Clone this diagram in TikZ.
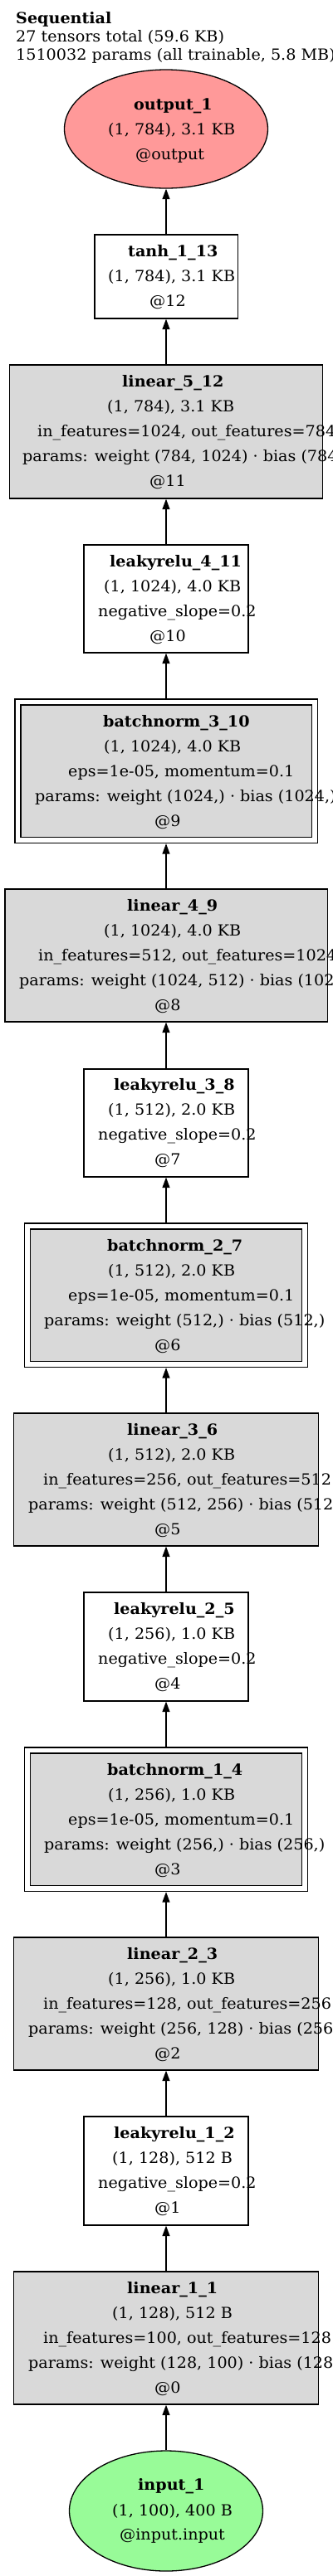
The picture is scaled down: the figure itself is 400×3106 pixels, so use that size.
\documentclass[tikz,border=0pt]{standalone}
\usepackage{fontspec}
\setmainfont[FakeStretch=1.035]{DejaVu Serif}
\usetikzlibrary{arrows.meta,shapes.geometric}
\definecolor{layergray}{HTML}{D9D9D9}
\definecolor{outred}{HTML}{FF9999}
\definecolor{ingreen}{HTML}{98FB98}

\begin{document}
\begin{tikzpicture}[x=1pt, y=-1pt,
  every node/.style={font=\fontsize{18.5}{22}\selectfont},
  plain/.style={draw, rectangle, inner sep=0pt, line width=1.3pt},
  weighted/.style={plain, fill=layergray},
  normed/.style={weighted, double, double distance=5.7pt},
  tensor/.style={draw, ellipse, inner sep=0pt, line width=1.3pt},
  txt/.style={anchor=base west, inner sep=0pt},
  head/.style={txt, font=\fontsize{18.5}{22}\selectfont\bfseries},
  flow/.style={line width=1.3pt, -{Triangle[length=12.5pt,width=9pt]}}]
\useasboundingbox[fill=white] (0,0) rectangle (400,3106);

% summary
\path (19,28) node[head] (seqn) {Sequential};
\path (19,50) node[txt] (seqt) {27 tensors total (59.6 KB)};
\path (19,72) node[txt] (seqp) {1510032 params (all trainable, 5.8 MB)};

% layers, top to bottom
\node[tensor, fill=outred, minimum width=245, minimum height=143] (out1) at (200,155.5) {};
\node[plain, minimum width=172.3, minimum height=101] (tanh1) at (200,333.5) {};
\node[weighted, minimum width=377, minimum height=161] (lin5) at (200,520.5) {};
\node[plain, minimum width=198, minimum height=130] (lrelu4) at (200,722) {};
\node[normed, minimum width=357.3, minimum height=166.5] (bn3) at (200,929.75) {};
\node[weighted, minimum width=388.3, minimum height=160] (lin4) at (200,1152) {};
\node[plain, minimum width=198, minimum height=130] (lrelu3) at (200,1354) {};
\node[normed, minimum width=334.6, minimum height=166.5] (bn2) at (200,1561.75) {};
\node[weighted, minimum width=366.6, minimum height=160] (lin3) at (200,1784) {};
\node[plain, minimum width=198, minimum height=131] (lrelu2) at (200,1985.5) {};
\node[normed, minimum width=334.6, minimum height=166.5] (bn1) at (200,2193.75) {};
\node[weighted, minimum width=366.6, minimum height=160] (lin2) at (200,2416) {};
\node[plain, minimum width=198, minimum height=131] (lrelu1) at (200,2617.5) {};
\node[weighted, minimum width=366.6, minimum height=160] (lin1) at (200,2819) {};
\node[tensor, fill=ingreen, minimum width=233, minimum height=145] (in1) at (200,3027.5) {};

% labels
\path (161,132) node[head] (out1n) {output\_1};
\path (130,162) node[txt] (out1s) {(1, 784), 3.1 KB};
\path (163,192) node[txt] (out1i) {@output};

\path (154,309) node[head] (tanh1n) {tanh\_1\_13};
\path (130,339) node[txt] (tanh1s) {(1, 784), 3.1 KB};
\path (180,369) node[txt] (tanh1i) {@12};

\path (147,466) node[head] (lin5n) {linear\_5\_12};
\path (129,496) node[txt] (lin5s) {(1, 784), 3.1 KB};
\path (45,526) node[txt] (lin5c) {in\_features=1024, out\_features=784};
\path (27,556) node[txt] (lin5p) {params: weight (784, 1024) · bias (784,)};
\path (180,586) node[txt] (lin5i) {@11};

\path (132,683) node[head] (lrelu4n) {leakyrelu\_4\_11};
\path (125,713) node[txt] (lrelu4s) {(1, 1024), 4.0 KB};
\path (118,743) node[txt] (lrelu4c) {negative\_slope=0.2};
\path (180,773) node[txt] (lrelu4i) {@10};

\path (124,876) node[head] (bn3n) {batchnorm\_3\_10};
\path (125,906) node[txt] (bn3s) {(1, 1024), 4.0 KB};
\path (82,936) node[txt] (bn3c) {eps=1e-05, momentum=0.1};
\path (42,966) node[txt] (bn3p) {params: weight (1024,) · bias (1024,)};
\path (186,996) node[txt] (bn3i) {@9};

\path (153,1098) node[head] (lin4n) {linear\_4\_9};
\path (125,1128) node[txt] (lin4s) {(1, 1024), 4.0 KB};
\path (46,1158) node[txt] (lin4c) {in\_features=512, out\_features=1024};
\path (23,1188) node[txt] (lin4p) {params: weight (1024, 512) · bias (1024,)};
\path (186,1218) node[txt] (lin4i) {@8};

\path (137,1314) node[head] (lrelu3n) {leakyrelu\_3\_8};
\path (130,1344) node[txt] (lrelu3s) {(1, 512), 2.0 KB};
\path (118,1374) node[txt] (lrelu3c) {negative\_slope=0.2};
\path (186,1404) node[txt] (lrelu3i) {@7};

\path (129,1508) node[head] (bn2n) {batchnorm\_2\_7};
\path (130,1538) node[txt] (bn2s) {(1, 512), 2.0 KB};
\path (82,1568) node[txt] (bn2c) {eps=1e-05, momentum=0.1};
\path (53,1598) node[txt] (bn2p) {params: weight (512,) · bias (512,)};
\path (186,1628) node[txt] (bn2i) {@6};

\path (153,1730) node[head] (lin3n) {linear\_3\_6};
\path (130,1760) node[txt] (lin3s) {(1, 512), 2.0 KB};
\path (52,1790) node[txt] (lin3c) {in\_features=256, out\_features=512};
\path (34,1820) node[txt] (lin3p) {params: weight (512, 256) · bias (512,)};
\path (186,1850) node[txt] (lin3i) {@5};

\path (137,1946) node[head] (lrelu2n) {leakyrelu\_2\_5};
\path (130,1976) node[txt] (lrelu2s) {(1, 256), 1.0 KB};
\path (118,2006) node[txt] (lrelu2c) {negative\_slope=0.2};
\path (186,2036) node[txt] (lrelu2i) {@4};

\path (129,2140) node[head] (bn1n) {batchnorm\_1\_4};
\path (130,2170) node[txt] (bn1s) {(1, 256), 1.0 KB};
\path (82,2200) node[txt] (bn1c) {eps=1e-05, momentum=0.1};
\path (53,2230) node[txt] (bn1p) {params: weight (256,) · bias (256,)};
\path (186,2260) node[txt] (bn1i) {@3};

\path (153,2362) node[head] (lin2n) {linear\_2\_3};
\path (130,2392) node[txt] (lin2s) {(1, 256), 1.0 KB};
\path (52,2422) node[txt] (lin2c) {in\_features=128, out\_features=256};
\path (34,2452) node[txt] (lin2p) {params: weight (256, 128) · bias (256,)};
\path (186,2482) node[txt] (lin2i) {@2};

\path (137,2578) node[head] (lrelu1n) {leakyrelu\_1\_2};
\path (135,2608) node[txt] (lrelu1s) {(1, 128), 512 B};
\path (118,2638) node[txt] (lrelu1c) {negative\_slope=0.2};
\path (186,2668) node[txt] (lrelu1i) {@1};

\path (153,2765) node[head] (lin1n) {linear\_1\_1};
\path (135,2795) node[txt] (lin1s) {(1, 128), 512 B};
\path (52,2825) node[txt] (lin1c) {in\_features=100, out\_features=128};
\path (34,2855) node[txt] (lin1p) {params: weight (128, 100) · bias (128,)};
\path (186,2885) node[txt] (lin1i) {@0};

\path (166,3002) node[head] (in1n) {input\_1};
\path (135,3033) node[txt] (in1s) {(1, 100), 400 B};
\path (144,3062) node[txt] (in1i) {@input.input};

% edges, bottom to top
\draw[flow] (in1) -- (lin1);
\draw[flow] (lin1) -- (lrelu1);
\draw[flow] (lrelu1) -- (lin2);
\draw[flow, shorten >=3.5pt] (lin2) -- (bn1);
\draw[flow, shorten <=3.5pt] (bn1) -- (lrelu2);
\draw[flow] (lrelu2) -- (lin3);
\draw[flow, shorten >=3.5pt] (lin3) -- (bn2);
\draw[flow, shorten <=3.5pt] (bn2) -- (lrelu3);
\draw[flow] (lrelu3) -- (lin4);
\draw[flow, shorten >=3.5pt] (lin4) -- (bn3);
\draw[flow, shorten <=3.5pt] (bn3) -- (lrelu4);
\draw[flow] (lrelu4) -- (lin5);
\draw[flow] (lin5) -- (tanh1);
\draw[flow] (tanh1) -- (out1);
\end{tikzpicture}
\end{document}
